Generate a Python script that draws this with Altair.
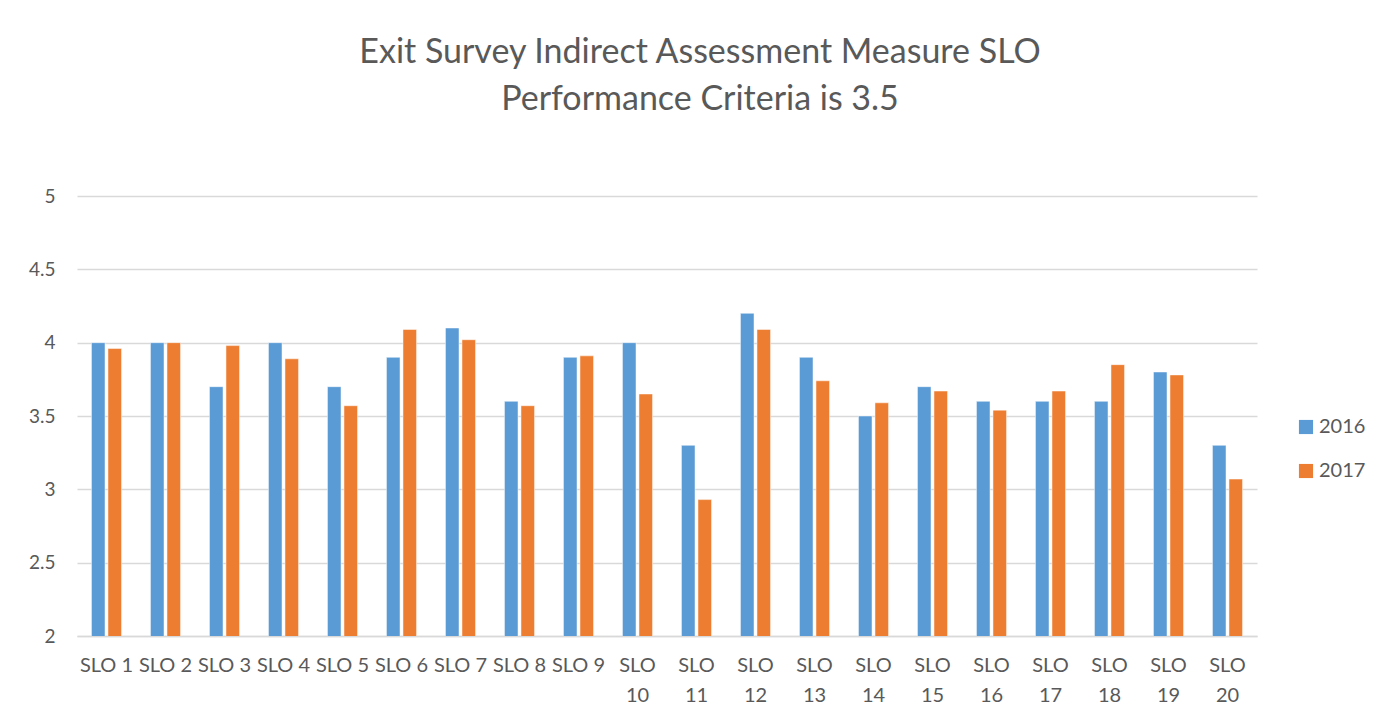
import altair as alt
import pandas as pd

categories = [f"SLO {i}" for i in range(1, 21)]
years = ["2016", "2017"]
values_2016 = [4.0, 4.0, 3.7, 4.0, 3.7, 3.9, 4.1, 3.6, 3.9, 4.0,
               3.3, 4.2, 3.9, 3.5, 3.7, 3.6, 3.6, 3.6, 3.8, 3.3]
values_2017 = [3.96, 4.0, 3.98, 3.89, 3.57, 4.09, 4.02, 3.57, 3.91, 3.65,
               2.93, 4.09, 3.74, 3.59, 3.67, 3.54, 3.67, 3.85, 3.78, 3.07]
y_ticks = [2, 2.5, 3, 3.5, 4, 4.5, 5]

rows = []
for c, a, b in zip(categories, values_2016, values_2017):
    rows.append({"slo": c, "year": "2016", "value": a})
    rows.append({"slo": c, "year": "2017", "value": b})
df = pd.DataFrame(rows)

FONT = "Lato"
GREY = "#595959"

chart = alt.Chart(df).mark_bar(stroke="white", strokeWidth=0.8, strokeOpacity=0.6, clip=True).encode(
    x=alt.X("slo:N", sort=categories, title=None,
            scale=alt.Scale(paddingInner=0.49, paddingOuter=0.245),
            axis=alt.Axis(labelAngle=0, labelFontSize=20, labelColor=GREY, labelFont=FONT,
                          ticks=False, domainColor="#D9D9D9", domainWidth=1.5,
                          labelPadding=19, labelLineHeight=30, labelBaseline="top",
                          labelExpr="length(datum.label) > 5 ? split(datum.label, ' ') : datum.label")),
    xOffset=alt.XOffset("year:N", scale=alt.Scale(paddingInner=0.18)),
    y=alt.Y("value:Q", title=None,
            scale=alt.Scale(domain=[2, 5], nice=False, zero=False),
            axis=alt.Axis(values=y_ticks, labelFontSize=19, labelColor=GREY, labelFont=FONT,
                          ticks=False, domain=False, gridColor="#D9D9D9", gridWidth=1.5,
                          labelPadding=22, labelExpr="datum.value")),
    color=alt.Color("year:N", title=None,
                    scale=alt.Scale(domain=years, range=["#5B9BD5", "#ED7D31"]),
                    legend=alt.Legend(orient="none", legendX=1219, legendY=221,
                                      symbolType="square", symbolSize=200, symbolStrokeWidth=0,
                                      labelFontSize=20, labelColor=GREY, labelFont=FONT,
                                      rowPadding=24, labelOffset=3)),
).properties(
    width=1180, height=440,
    title=alt.Title(["Exit Survey Indirect Assessment Measure SLO", "Performance Criteria is 3.5"],
                    fontSize=34, font=FONT, color=GREY, fontWeight="normal",
                    lineHeight=47, anchor="middle", dx=33, offset=70),
    padding={"left": 69, "top": 188, "right": 108, "bottom": 70},
    autosize=alt.AutoSizeParams(type="none"),
).configure_view(stroke=None)

chart.save("out.html", embed_options={"renderer": "svg", "actions": False})
